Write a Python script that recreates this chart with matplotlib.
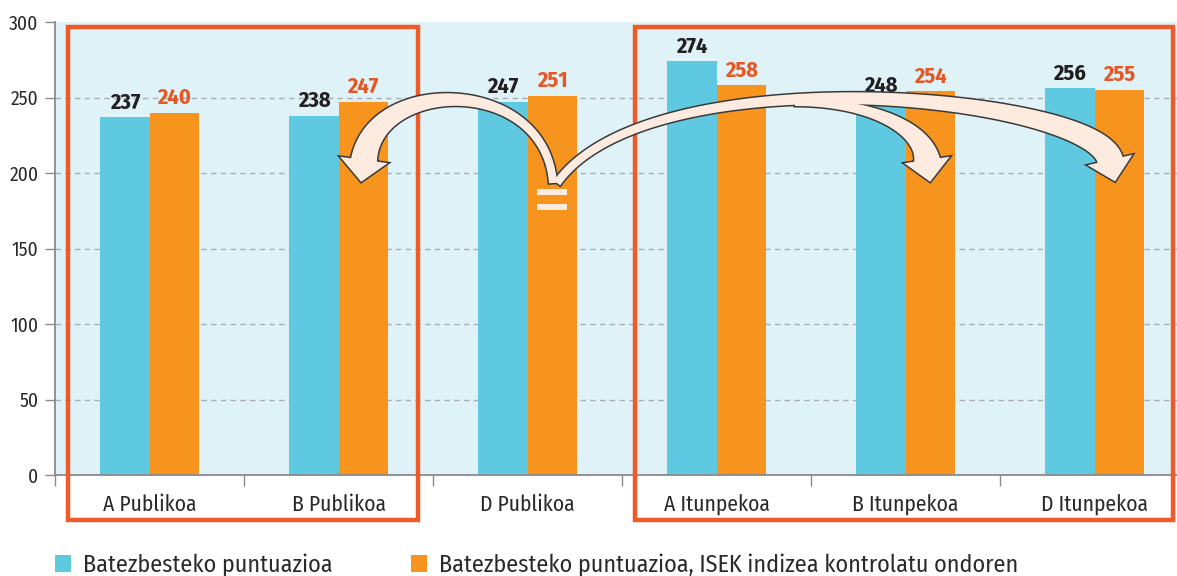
import numpy as np
import matplotlib
matplotlib.use('Agg')
import matplotlib.pyplot as plt
from matplotlib.patches import Rectangle, Patch, Polygon
from matplotlib import transforms

# ---- data ----
categories = ['A Publikoa', 'B Publikoa', 'D Publikoa', 'A Itunpekoa', 'B Itunpekoa', 'D Itunpekoa']
mean_score = [237, 238, 247, 274, 248, 256]
adjusted_score = [240, 247, 251, 258, 254, 255]
series_labels = ['Batezbesteko puntuazioa',
                 'Batezbesteko puntuazioa, ISEK indizea kontrolatu ondoren']
yticks = [0, 50, 100, 150, 200, 250, 300]

# ---- style ----
BLUE = '#5ec9e0'
ORANGE = '#f7941e'
RED = '#f05a28'
LABEL_RED = '#e35824'
BG = '#dff2f8'
PEACH = '#fdebe0'
GRAY = '#8a8a8a'
TXT = '#2a2a2a'
FAM = ['Fira Sans Condensed', 'DejaVu Sans']

W, H = 1177, 576
plt.rcParams['font.family'] = FAM

fig = plt.figure(figsize=(W / 100, H / 100), dpi=100)
ax = fig.add_axes([55 / W, 1 - 475 / H, 1134 / W, 453 / H])
ax.set_facecolor(BG)

x = np.arange(len(categories))
bw = 0.26
ax.bar(x - bw / 2, mean_score, bw, color=BLUE, zorder=2)
ax.bar(x + bw / 2, adjusted_score, bw, color=ORANGE, zorder=2)

for xi, v in zip(x, mean_score):
    ax.annotate(str(v), (xi - bw / 2, v), xytext=(0, 3), textcoords='offset points',
                ha='center', va='bottom', fontsize=16, fontweight='bold', color='#231f20', zorder=4)
for xi, v in zip(x, adjusted_score):
    ax.annotate(str(v), (xi + bw / 2, v), xytext=(0, 3), textcoords='offset points',
                ha='center', va='bottom', fontsize=16, fontweight='bold', color=LABEL_RED, zorder=4)

ax.set_xlim(-0.5, len(categories) - 0.5)
ax.set_ylim(0, 300)
ax.set_yticks(yticks)
for yv in yticks[1:-1]:
    ax.axhline(yv, color='#a9afb3', lw=1, linestyle=(0, (4, 3)), zorder=1)

ax.set_xticks(x)
ax.set_xticklabels(categories, fontsize=15.5, color=TXT)
ax.set_xticks(np.arange(-0.5, len(categories), 1), minor=True)
ax.tick_params(axis='x', which='major', length=0, pad=14)
ax.tick_params(axis='x', which='minor', length=8, width=1, color=GRAY)
ax.tick_params(axis='y', length=7, width=1, color=GRAY, labelsize=14, labelcolor=TXT, pad=5)

for s in ['top', 'right']:
    ax.spines[s].set_visible(False)
for s in ['left', 'bottom']:
    ax.spines[s].set_color(GRAY)
    ax.spines[s].set_linewidth(1.3)

# ---- highlight boxes (x in data, y in axes fraction) ----
trans = transforms.blended_transform_factory(ax.transData, ax.transAxes)
for x0, x1 in [(0 - 0.43, 1 + 0.42), (3 - 0.43, 5 + 0.415)]:
    ax.add_patch(Rectangle((x0, -0.099), x1 - x0, 0.989 + 0.099, transform=trans,
                           fill=False, edgecolor=RED, lw=3.2, clip_on=False, zorder=6))

# ---- curved arrows (pixel layout, top-down) ----
def fig_pts(p):
    p = np.asarray(p, float)
    return np.column_stack([p[:, 0] / W, 1 - p[:, 1] / H])

def arrow_poly(P, w0, w1, hw, hl, n=120):
    P = np.asarray(P, float)
    t = np.linspace(0, 1, n)[:, None]
    c = (1 - t) ** 3 * P[0] + 3 * (1 - t) ** 2 * t * P[1] + 3 * (1 - t) * t ** 2 * P[2] + t ** 3 * P[3]
    d = 3 * (1 - t) ** 2 * (P[1] - P[0]) + 6 * (1 - t) * t * (P[2] - P[1]) + 3 * t ** 2 * (P[3] - P[2])
    d = d / np.linalg.norm(d, axis=1)[:, None]
    nrm = np.column_stack([-d[:, 1], d[:, 0]])
    w = (w0 + (w1 - w0) * t ** 2.2) / 2
    left = c + nrm * w
    right = c - nrm * w
    e, de, ne = c[-1], d[-1], nrm[-1]
    head = np.array([e + ne * hw / 2, e + de * hl, e - ne * hw / 2])
    return np.vstack([left, head, right[::-1]])

arrows = [
    ([(553, 183), (545, 76), (375, 76), (364, 160)], 8, 26, 48, 22),
    ([(557, 183), (650, 52), (1095, 96), (1110, 160)], 8, 26, 46, 22),
    ([(795, 102), (865, 102), (922, 125), (927, 160)], 8, 26, 46, 22),
]
polys = [arrow_poly(*a) for a in arrows]
for p in polys:
    fig.patches.append(Polygon(fig_pts(p), closed=True, transform=fig.transFigure,
                               facecolor=PEACH, edgecolor='#3a3a3a', lw=2.2, zorder=7))
for p in polys:
    fig.patches.append(Polygon(fig_pts(p), closed=True, transform=fig.transFigure,
                               facecolor=PEACH, edgecolor='none', zorder=8))

# '=' sign on the D Publikoa bar
for yy in (189, 204):
    fig.patches.append(Rectangle((537 / W, 1 - (yy + 6) / H), 30 / W, 6 / H,
                                 transform=fig.transFigure, facecolor=PEACH,
                                 edgecolor='none', zorder=8))

# ---- legend ----
handles = [Patch(facecolor=BLUE), Patch(facecolor=ORANGE)]
fig.legend(handles, series_labels, loc='center left', bbox_to_anchor=(33 / W, 1 - 565 / H),
           ncol=2, frameon=False, handlelength=0.66, handleheight=0.66,
           handletextpad=0.5, columnspacing=3.27, labelcolor=TXT,
           prop={'family': FAM, 'size': 17.4})

fig.savefig('out.png', dpi=100)
